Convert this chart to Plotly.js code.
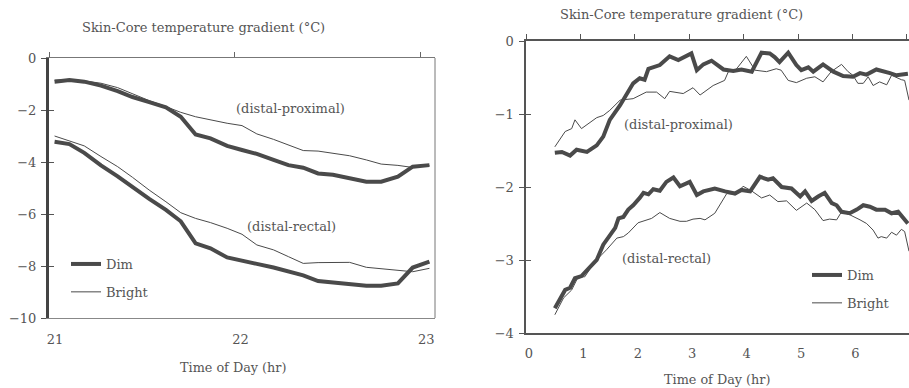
<!DOCTYPE html>
<html>
<head>
<meta charset="utf-8">
<script src="https://cdn.plot.ly/plotly-3.0.1.min.js"></script>
<style>html,body{margin:0;padding:0;background:#fff;}#chart{width:909px;height:388px;}</style>
</head>
<body>
<div id="chart"></div>
<script>
// ---------- Left panel (21–23 h) ----------
const leftTime = [21.03,21.11,21.19,21.28,21.37,21.45,21.54,21.63,21.71,21.79,21.87,21.96,22.04,22.12,22.21,22.29,22.37,22.45,22.53,22.62,22.71,22.79,22.88,22.96,23.05];
const leftDimProx    = [-0.91,-0.85,-0.91,-1.06,-1.27,-1.50,-1.70,-1.90,-2.26,-2.94,-3.09,-3.38,-3.54,-3.69,-3.92,-4.12,-4.22,-4.44,-4.49,-4.63,-4.76,-4.76,-4.56,-4.18,-4.12];
const leftBrightProx = [-0.85,-0.83,-0.88,-0.97,-1.14,-1.38,-1.64,-1.87,-2.09,-2.26,-2.38,-2.51,-2.60,-2.92,-3.13,-3.36,-3.56,-3.58,-3.67,-3.76,-3.92,-4.08,-4.13,-4.21,-4.14];
const leftDimRect    = [-3.22,-3.31,-3.65,-4.13,-4.55,-4.98,-5.42,-5.84,-6.28,-7.13,-7.32,-7.67,-7.81,-7.92,-8.06,-8.23,-8.36,-8.58,-8.63,-8.67,-8.76,-8.76,-8.67,-8.06,-7.83];
const leftBrightRect = [-3.00,-3.19,-3.38,-3.79,-4.18,-4.59,-5.08,-5.53,-5.95,-6.17,-6.33,-6.55,-6.78,-7.19,-7.38,-7.64,-7.90,-7.87,-7.86,-7.86,-8.05,-8.10,-8.15,-8.22,-8.09];

// ---------- Right panel (0–7 h) ----------
const rDimProxT = [0.53,0.66,0.81,0.93,1.12,1.30,1.42,1.54,1.73,1.85,1.97,2.09,2.18,2.25,2.46,2.64,2.80,3.04,3.14,3.26,3.41,3.63,3.81,3.96,4.15,4.33,4.48,4.57,4.66,4.82,4.97,5.06,5.19,5.28,5.46,5.65,5.83,6.01,6.14,6.26,6.44,6.69,6.81,7.02];
const rDimProxV = [-1.53,-1.52,-1.57,-1.49,-1.52,-1.43,-1.31,-1.08,-0.88,-0.72,-0.58,-0.51,-0.53,-0.38,-0.33,-0.21,-0.26,-0.17,-0.40,-0.32,-0.27,-0.39,-0.41,-0.39,-0.42,-0.16,-0.17,-0.22,-0.29,-0.16,-0.33,-0.40,-0.36,-0.42,-0.32,-0.42,-0.48,-0.49,-0.44,-0.46,-0.39,-0.44,-0.47,-0.45];
const rBrightProxT = [0.53,0.72,0.84,0.90,1.02,1.30,1.42,1.54,1.73,1.97,2.21,2.40,2.55,2.64,2.89,3.07,3.20,3.44,3.65,3.72,3.84,4.05,4.21,4.42,4.60,4.69,4.82,4.97,5.16,5.31,5.46,5.61,5.80,5.92,6.01,6.10,6.20,6.29,6.38,6.50,6.63,6.72,6.90,6.96,7.04];
const rBrightProxV = [-1.45,-1.24,-1.20,-1.08,-1.20,-1.05,-1.02,-0.95,-0.81,-0.79,-0.70,-0.70,-0.79,-0.69,-0.72,-0.64,-0.74,-0.61,-0.54,-0.42,-0.41,-0.21,-0.40,-0.42,-0.38,-0.40,-0.54,-0.57,-0.51,-0.49,-0.56,-0.42,-0.32,-0.42,-0.47,-0.58,-0.58,-0.49,-0.61,-0.56,-0.60,-0.47,-0.53,-0.54,-0.81];
const rDimRectT = [0.53,0.66,0.72,0.81,0.90,1.02,1.18,1.30,1.42,1.54,1.64,1.70,1.79,1.88,1.97,2.09,2.16,2.25,2.34,2.46,2.58,2.71,2.83,3.01,3.14,3.26,3.47,3.66,3.84,3.96,4.12,4.30,4.45,4.54,4.70,4.88,5.04,5.13,5.25,5.37,5.49,5.62,5.71,5.80,5.95,6.08,6.20,6.32,6.44,6.60,6.72,6.84,6.93,7.02];
const rDimRectV = [-3.66,-3.48,-3.41,-3.38,-3.25,-3.22,-3.09,-3.00,-2.79,-2.66,-2.56,-2.43,-2.41,-2.31,-2.25,-2.15,-2.08,-2.10,-2.03,-2.05,-1.93,-1.87,-1.99,-1.93,-2.11,-2.06,-2.02,-2.06,-2.09,-2.04,-2.06,-1.86,-1.90,-1.88,-2.00,-2.02,-2.13,-2.06,-2.19,-2.13,-2.08,-2.22,-2.25,-2.34,-2.36,-2.31,-2.25,-2.27,-2.31,-2.31,-2.36,-2.34,-2.43,-2.50];
const rBrightRectT = [0.53,0.69,0.84,0.96,1.08,1.27,1.48,1.67,1.79,1.88,2.06,2.22,2.31,2.46,2.64,2.83,2.95,3.07,3.20,3.29,3.47,3.69,3.87,3.99,4.14,4.33,4.48,4.63,4.79,4.97,5.16,5.31,5.46,5.58,5.71,5.80,5.95,6.14,6.26,6.38,6.47,6.53,6.63,6.72,6.81,6.90,6.96,7.04];
const rBrightRectV = [-3.75,-3.52,-3.41,-3.23,-3.23,-3.02,-2.86,-2.70,-2.68,-2.63,-2.49,-2.45,-2.43,-2.35,-2.43,-2.47,-2.47,-2.44,-2.43,-2.45,-2.36,-2.09,-2.10,-1.99,-2.05,-2.15,-2.11,-2.20,-2.19,-2.32,-2.22,-2.31,-2.46,-2.44,-2.45,-2.34,-2.38,-2.45,-2.50,-2.59,-2.70,-2.68,-2.70,-2.62,-2.66,-2.58,-2.61,-2.88];

const seriesNames = ['Dim', 'Bright'];
const titleText = 'Skin-Core temperature gradient (°C)';
const xTitleText = 'Time of Day (hr)';
const curveLabels = ['(distal-proximal)', '(distal-rectal)'];
const leftXTicks = [21, 22, 23];
const leftYTicks = [0, -2, -4, -6, -8, -10];
const rightXTicks = [0, 1, 2, 3, 4, 5, 6, 7];
const rightYTicks = [0, -1, -2, -3, -4];

const LINE = '#4a4a4a';
const TXT = '#555555';
const FONT = 'DejaVu Serif, Liberation Serif, serif';
const thick = {color: LINE, width: 4};
const thin = {color: LINE, width: 1};

function tr(x, y, line, name, xa, ya, leg, show, grp) {
  return {type: 'scatter', mode: 'lines', x: x, y: y, line: line, name: name,
          xaxis: xa, yaxis: ya, legend: leg, showlegend: show, legendgroup: grp, hoverinfo: 'skip'};
}
// empty helper traces so the overlay (tick-only) axes get drawn
function axisHelper(xa, ya) {
  return {type: 'scatter', mode: 'lines', x: [], y: [], xaxis: xa, yaxis: ya, showlegend: false, hoverinfo: 'skip'};
}

const data = [
  tr(leftTime, leftDimProx, thick, seriesNames[0], 'x', 'y', 'legend', true, 'ld'),
  tr(leftTime, leftBrightProx, thin, seriesNames[1], 'x', 'y', 'legend', true, 'lb'),
  tr(leftTime, leftDimRect, thick, seriesNames[0], 'x', 'y', 'legend', false, 'ld'),
  tr(leftTime, leftBrightRect, thin, seriesNames[1], 'x', 'y', 'legend', false, 'lb'),
  tr(rDimProxT, rDimProxV, thick, seriesNames[0], 'x2', 'y2', 'legend2', true, 'rd'),
  tr(rBrightProxT, rBrightProxV, thin, seriesNames[1], 'x2', 'y2', 'legend2', true, 'rb'),
  tr(rDimRectT, rDimRectV, thick, seriesNames[0], 'x2', 'y2', 'legend2', false, 'rd'),
  tr(rBrightRectT, rBrightRectV, thin, seriesNames[1], 'x2', 'y2', 'legend2', false, 'rb'),
  axisHelper('x3', 'y'), axisHelper('x', 'y3'), axisHelper('x4', 'y2'), axisHelper('x2', 'y4')
];

const W = 909, H = 388;
const px = v => v / W, py = v => 1 - v / H;
const tickFont = {family: FONT, size: 13, color: TXT};

const leftDomX = [px(49), px(435)], leftDomY = [py(318), py(58)];
const rightDomX = [px(526), 1], rightDomY = [py(333), py(41)];
const leftRange = [21, 23.08], rightRange = [0, 7.04];

const base = {showgrid: false, zeroline: false, fixedrange: true};

function ann(text, x, y, size) {
  return {text: text, xref: 'paper', yref: 'paper', x: px(x), y: py(y), xanchor: 'center', yanchor: 'middle',
          showarrow: false, font: {family: FONT, size: size, color: TXT}};
}

const layout = {
  width: W, height: H,
  margin: {l: 0, r: 0, t: 0, b: 0},
  paper_bgcolor: '#fff', plot_bgcolor: '#fff',
  font: {family: FONT, color: TXT},
  // left panel
  xaxis: Object.assign({}, base, {domain: leftDomX, range: leftRange, anchor: 'y', tickvals: leftXTicks,
    showline: true, linecolor: '#888', linewidth: 1, ticks: '', tickfont: tickFont,
    ticklabelstandoff: 9, ticklabelshift: 6}),
  xaxis3: Object.assign({}, base, {overlaying: 'x', side: 'top', anchor: 'y', range: leftRange, tickvals: leftXTicks,
    showline: true, linecolor: '#777', linewidth: 1, ticks: 'outside', ticklen: 5, tickcolor: '#666', tickwidth: 1,
    showticklabels: false}),
  yaxis: Object.assign({}, base, {domain: leftDomY, range: [-10, 0], anchor: 'x', tickvals: leftYTicks,
    showline: true, linecolor: '#444', linewidth: 3, ticks: 'outside', ticklen: 5, tickcolor: '#555', tickwidth: 1,
    tickfont: tickFont, ticklabelstandoff: 2}),
  yaxis3: Object.assign({}, base, {overlaying: 'y', side: 'left', anchor: 'x', range: [-10, 0], tickvals: leftYTicks,
    showline: false, ticks: 'inside', ticklen: 5, tickcolor: '#555', tickwidth: 1, showticklabels: false}),
  // right panel
  xaxis2: Object.assign({}, base, {domain: rightDomX, range: rightRange, anchor: 'y2', tickvals: rightXTicks,
    showline: true, linecolor: '#555', linewidth: 2, ticks: '', tickfont: tickFont,
    ticklabelstandoff: 7, ticklabelshift: 3}),
  xaxis4: Object.assign({}, base, {overlaying: 'x2', side: 'top', anchor: 'y2', range: rightRange, tickvals: rightXTicks,
    showline: true, linecolor: '#555', linewidth: 2, ticks: 'outside', ticklen: 5, tickcolor: '#555', tickwidth: 1,
    showticklabels: false}),
  yaxis2: Object.assign({}, base, {domain: rightDomY, range: [-4, 0], anchor: 'x2', tickvals: rightYTicks,
    showline: true, linecolor: '#555', linewidth: 2.5, ticks: 'outside', ticklen: 5, tickcolor: '#555', tickwidth: 1,
    tickfont: tickFont, ticklabelstandoff: 2}),
  yaxis4: Object.assign({}, base, {overlaying: 'y2', side: 'left', anchor: 'x2', range: [-4, 0], tickvals: rightYTicks,
    showline: false, ticks: 'inside', ticklen: 5, tickcolor: '#555', tickwidth: 1, showticklabels: false}),
  legend: {x: px(66), y: py(249), xanchor: 'left', yanchor: 'top', bgcolor: 'rgba(0,0,0,0)', borderwidth: 0,
    font: {family: FONT, size: 13, color: TXT}, traceorder: 'grouped', tracegroupgap: 8, itemclick: false},
  legend2: {x: px(807), y: py(260), xanchor: 'left', yanchor: 'top', bgcolor: 'rgba(0,0,0,0)', borderwidth: 0,
    font: {family: FONT, size: 13, color: TXT}, traceorder: 'grouped', tracegroupgap: 8, itemclick: false},
  shapes: [
    {type: 'line', xref: 'x domain', yref: 'y domain', x0: 1, x1: 1, y0: 0, y1: 1, line: {color: '#777', width: 1}, layer: 'below'}
  ],
  annotations: [
    ann(titleText, 203.5, 28, 13),
    ann(titleText, 681, 15, 13),
    ann(xTitleText, 233, 367, 12.8),
    ann(xTitleText, 717, 379, 12.8),
    ann(curveLabels[0], 290, 108, 13),
    ann(curveLabels[1], 291, 226, 13),
    ann(curveLabels[0], 678, 125, 13),
    ann(curveLabels[1], 666, 258, 13)
  ]
};

Plotly.newPlot('chart', data, layout, {staticPlot: true, displayModeBar: false});
</script>
</body>
</html>
